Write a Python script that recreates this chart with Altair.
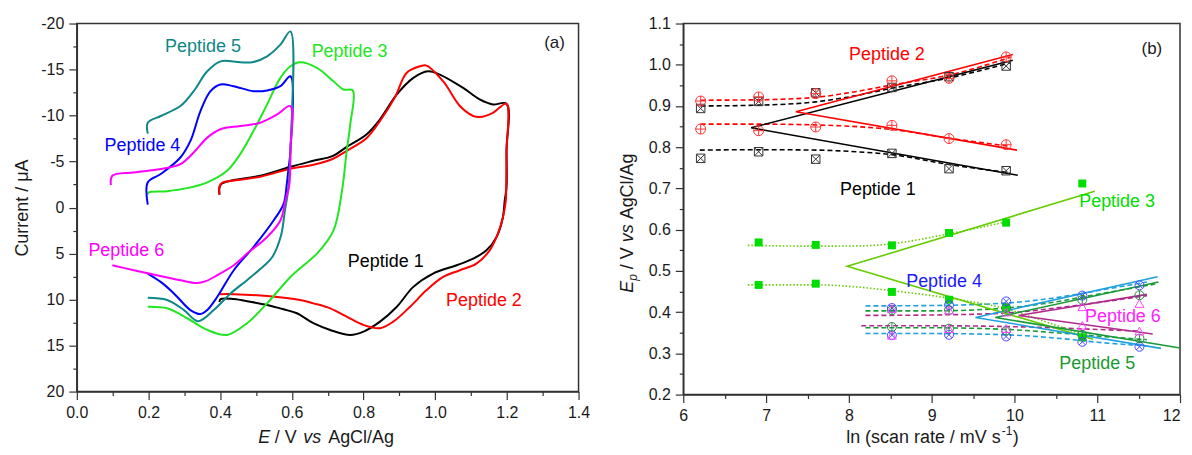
import altair as alt
import pandas as pd

FONT = "Liberation Sans"
INK = "#1a1a1a"
FRAME = "#333333"

# ================= Panel (a): cyclic voltammograms =================
cv_names = ["Peptide 1", "Peptide 2", "Peptide 3", "Peptide 4", "Peptide 5", "Peptide 6"]
cv_colors = ["#000000", "#ff0000", "#22e622", "#0000ff", "#0f8787", "#ff00ff"]

p1_E = [0.398, 0.398, 0.404, 0.429, 0.512, 0.596, 0.660, 0.715, 0.753, 0.809, 0.846, 0.893, 0.939, 0.980,
        1.013, 1.078, 1.124, 1.161, 1.199, 1.199, 1.199, 1.194, 1.189, 1.171, 1.143, 1.106, 1.060, 0.994,
        0.939, 0.893, 0.846, 0.800, 0.763, 0.707, 0.660, 0.614, 0.577, 0.531, 0.484, 0.438, 0.401, 0.398]
p1_I = [-1.41, -2.16, -2.59, -2.92, -3.46, -4.43, -5.08, -5.62, -6.59, -7.97, -9.59, -12.29, -14.09, -14.81,
        -14.45, -13.0, -11.75, -11.21, -11.28, -6.16, -2.19, -0.76, 1.05, 3.21, 4.65, 5.55, 6.27, 7.17,
        8.62, 10.78, 12.40, 13.48, 13.84, 13.30, 12.57, 11.49, 11.06, 10.59, 10.24, 9.95, 9.95, 10.27]

p2_E = [0.398, 0.398, 0.406, 0.456, 0.512, 0.596, 0.660, 0.715, 0.753, 0.809, 0.846, 0.888, 0.920, 0.957,
        0.976, 1.022, 1.069, 1.106, 1.124, 1.161, 1.199, 1.199, 1.198, 1.197, 1.189, 1.175, 1.152, 1.115,
        1.069, 1.022, 0.976, 0.930, 0.883, 0.846, 0.800, 0.753, 0.707, 0.660, 0.623, 0.531, 0.438, 0.398]
p2_I = [-1.41, -2.27, -2.70, -3.03, -3.35, -4.22, -4.65, -5.30, -6.16, -7.57, -9.41, -12.0, -14.63, -15.35,
        -15.43, -13.73, -11.03, -9.95, -9.84, -10.30, -11.28, -6.16, -1.84, -0.76, 1.05, 2.84, 4.65, 6.09,
        6.81, 7.54, 8.97, 10.78, 12.40, 13.11, 12.76, 11.86, 10.95, 10.41, 10.05, 9.62, 9.41, 9.41]

p3_E = [0.198, 0.200, 0.252, 0.308, 0.364, 0.419, 0.456, 0.493, 0.531, 0.568, 0.596, 0.623, 0.670, 0.716,
        0.744, 0.770, 0.763, 0.753, 0.740, 0.716, 0.670, 0.623, 0.596, 0.531, 0.475, 0.419, 0.364, 0.308,
        0.252, 0.198]
p3_I = [-1.41, -1.65, -1.78, -2.11, -2.74, -4.0, -5.81, -8.32, -11.21, -14.09, -15.35, -15.78, -15.17, -13.73,
        -12.83, -12.72, -9.05, -6.16, -1.84, 2.5, 5.01, 6.59, 7.54, 10.41, 12.57, 13.84, 13.30, 12.03,
        10.95, 10.78]

p4_E = [0.198, 0.198, 0.234, 0.289, 0.317, 0.345, 0.373, 0.401, 0.437, 0.493, 0.531, 0.568, 0.596, 0.596,
        0.590, 0.586, 0.577, 0.549, 0.493, 0.438, 0.392, 0.364, 0.345, 0.317, 0.271, 0.234, 0.198]
p4_I = [-0.32, -2.74, -3.64, -5.44, -7.24, -10.49, -12.65, -13.37, -13.19, -12.65, -12.72, -13.19, -14.27, -6.16,
        -4.0, -2.56, -0.4, 1.41, 4.29, 6.81, 9.70, 11.14, 11.57, 11.14, 9.33, 8.08, 7.17]

p5_E = [0.198, 0.198, 0.234, 0.289, 0.326, 0.364, 0.401, 0.456, 0.493, 0.531, 0.568, 0.596, 0.596, 0.590,
        0.580, 0.570, 0.545, 0.520, 0.475, 0.429, 0.382, 0.338, 0.299, 0.252, 0.198]
p5_I = [-8.03, -9.22, -9.95, -11.03, -12.65, -14.81, -15.89, -15.78, -15.82, -16.43, -17.70, -19.14, -6.16, -2.0,
        0.5, 3.0, 5.4, 6.4, 7.89, 9.33, 11.14, 12.35, 11.14, 10.05, 9.81]

p6_E = [0.095, 0.099, 0.159, 0.234, 0.289, 0.326, 0.364, 0.401, 0.456, 0.512, 0.559, 0.596, 0.596, 0.593,
        0.582, 0.568, 0.531, 0.475, 0.438, 0.392, 0.360, 0.335, 0.289, 0.252, 0.159, 0.099]
p6_I = [-2.45, -3.46, -3.82, -4.18, -4.72, -5.98, -7.60, -8.51, -8.86, -9.22, -10.13, -11.03, -6.16, -2.5,
        -0.76, 1.4, 3.2, 5.0, 6.27, 7.35, 8.0, 8.2, 7.9, 7.6, 6.81, 6.27]

lab_a_text = ["Peptide 1", "Peptide 2", "Peptide 3", "Peptide 4", "Peptide 5", "Peptide 6"]
lab_a_E = [0.862, 1.136, 0.761, 0.183, 0.352, 0.138]
lab_a_I = [5.9, 10.2, -16.9, -6.7, -17.5, 4.7]
tag_a_text = ["(a)"]
tag_a_E = [1.333]
tag_a_I = [-17.9]

xa_ticks = [0.0, 0.1, 0.2, 0.3, 0.4, 0.5, 0.6, 0.7, 0.8, 0.9, 1.0, 1.1, 1.2, 1.3, 1.4]
ya_ticks = [-20, -17.5, -15, -12.5, -10, -7.5, -5, -2.5, 0, 2.5, 5, 7.5, 10, 12.5, 15, 17.5, 20]

# ================= Panel (b): Ep vs ln(scan rate) =================
lnv_12 = [6.21, 6.91, 7.60, 8.52, 9.21, 9.90]
lnv_3 = [6.91, 7.60, 8.52, 9.21, 9.90, 10.82]
lnv_456 = [8.52, 9.21, 9.90, 10.82, 11.51]

p1_ox = [0.894, 0.911, 0.932, 0.945, 0.971, 0.997]
p1_rd = [0.773, 0.789, 0.771, 0.785, 0.748, 0.743]
p2_ox = [0.912, 0.922, 0.930, 0.961, 0.967, 1.019]
p2_rd = [0.844, 0.840, 0.849, 0.853, 0.821, 0.806]
p3_ox = [0.569, 0.563, 0.562, 0.592, 0.617, 0.712]
p3_rd = [0.466, 0.469, 0.449, 0.430, 0.410, 0.339]
p4_ox = [0.410, 0.417, 0.426, 0.440, 0.465]
p4_rd = [0.344, 0.345, 0.341, 0.328, 0.316]
p5_ox = [0.405, 0.405, 0.410, 0.430, 0.441]
p5_rd = [0.364, 0.360, 0.355, 0.345, 0.336]
p6_ox = [0.409, 0.405, 0.400, 0.413, 0.421]
p6_rd = [0.344, 0.360, 0.360, 0.368, 0.354]

# linear (Laviron) fits: upper end, intersection, lower end
fit1_x = [9.98, 6.82, 10.04]
fit1_y = [1.011, 0.847, 0.732]
fit2_x = [9.98, 7.36, 10.03]
fit2_y = [1.025, 0.886, 0.793]
fit3_x = [10.97, 7.98, 10.95]
fit3_y = [0.693, 0.511, 0.334]
fit4_x = [11.73, 9.53, 11.77]
fit4_y = [0.486, 0.387, 0.312]
fit5_x = [11.74, 9.77, 12.0]
fit5_y = [0.473, 0.387, 0.313]
fit6_x = [11.60, 10.05, 11.67]
fit6_y = [0.443, 0.392, 0.347]

# non-linear fitted curves (dashed / dotted)
d1u_x = [6.21, 6.91, 7.60, 8.0, 8.52, 9.21, 9.95]
d1u_y = [0.900, 0.902, 0.910, 0.922, 0.943, 0.968, 1.005]
d1l_x = [6.20, 6.91, 7.60, 8.0, 8.52, 9.21, 9.95]
d1l_y = [0.793, 0.794, 0.793, 0.790, 0.782, 0.758, 0.738]
d2u_x = [6.21, 6.91, 7.60, 8.0, 8.52, 9.21, 9.95]
d2u_y = [0.914, 0.915, 0.921, 0.932, 0.951, 0.975, 1.018]
d2l_x = [6.21, 6.91, 7.60, 8.0, 8.52, 9.21, 9.95]
d2l_y = [0.856, 0.856, 0.854, 0.851, 0.843, 0.822, 0.802]
d3u_x = [6.78, 7.60, 8.2, 8.52, 9.21, 9.92]
d3u_y = [0.562, 0.560, 0.561, 0.566, 0.590, 0.620]
d3l_x = [6.78, 7.60, 8.1, 8.52, 9.24, 9.88, 10.4, 10.9]
d3l_y = [0.466, 0.466, 0.461, 0.452, 0.433, 0.409, 0.375, 0.340]
d4u_x = [8.2, 9.0, 9.9, 10.5, 11.0, 11.6]
d4u_y = [0.415, 0.416, 0.422, 0.435, 0.452, 0.473]
d4l_x = [8.2, 9.0, 9.9, 10.5, 11.0, 11.6]
d4l_y = [0.348, 0.348, 0.345, 0.337, 0.327, 0.318]
d5u_x = [8.2, 9.0, 9.9, 10.5, 11.0, 11.7]
d5u_y = [0.403, 0.403, 0.410, 0.425, 0.443, 0.468]
d5l_x = [8.2, 9.0, 9.9, 10.5, 11.0, 11.6]
d5l_y = [0.362, 0.362, 0.358, 0.350, 0.342, 0.333]
d6u_x = [8.2, 9.0, 9.9, 10.5, 11.0, 11.6]
d6u_y = [0.392, 0.393, 0.398, 0.410, 0.423, 0.440]
d6l_x = [8.15, 9.0, 9.9, 10.5, 11.0, 11.5]
d6l_y = [0.367, 0.367, 0.365, 0.362, 0.358, 0.354]

lab_b_text = ["Peptide 1", "Peptide 2", "Peptide 3", "Peptide 4", "Peptide 5", "Peptide 6"]
lab_b_x = [8.35, 8.46, 11.24, 9.15, 11.0, 11.31]
lab_b_y = [0.696, 1.023, 0.666, 0.472, 0.273, 0.387]
tag_b_text = ["(b)"]
tag_b_x = [11.66]
tag_b_y = [1.037]

xb_ticks = [6, 6.5, 7, 7.5, 8, 8.5, 9, 9.5, 10, 10.5, 11, 11.5, 12]
yb_ticks = [0.2, 0.25, 0.3, 0.35, 0.4, 0.45, 0.5, 0.55, 0.6, 0.65, 0.7, 0.75, 0.8, 0.85, 0.9, 0.95, 1.0,
            1.05, 1.1]

# ================= styling =================
W_A, H_A = 503, 369
W_B, H_B = 498, 372

line_b_colors = ["#000000", "#ff0000", "#66cc00", "#1fa0e0", "#1a9a3a", "#b02a8e"]
mark_b_colors = ["#333333", "#ff3333", "#00dd00", "#4a4aff", "#2a8a4a", "#ff44ff"]
lab_b_colors = ["#000000", "#ff0000", "#00dd00", "#1a1aff", "#1a9a30", "#ff22ff"]

SQX = "M-1,-1L1,-1L1,1L-1,1Z M-1,-1L1,1 M1,-1L-1,1"
CPLUS = "M-1,0A1,1,0,1,1,1,0A1,1,0,1,1,-1,0Z M-1,0L1,0 M0,-1L0,1"
CX = "M-1,0A1,1,0,1,1,1,0A1,1,0,1,1,-1,0Z M-0.7,-0.7L0.7,0.7 M0.7,-0.7L-0.7,0.7"
CBAR = "M-1,0A1,1,0,1,1,1,0A1,1,0,1,1,-1,0Z M0,-1L0,1"


def tick_axis(values, major, label, **kw):
    return alt.Axis(
        values=values,
        labelExpr="(" + major + ") ? " + label + " : ''",
        tickSize={"condition": {"test": major, "value": 8}, "value": 4},
        grid=False, labelFlush=False, labelOverlap=False, **kw)


ax_xa = tick_axis(xa_ticks, "round(datum.value*10) % 2 == 0", "format(datum.value, '.1f')", title=None)
ax_ya = tick_axis(ya_ticks, "datum.value % 5 == 0",
                  "(datum.value < 0 ? '-' : '') + format(abs(datum.value), 'd')",
                  title="Current / μA", titlePadding=9)
ax_xb = tick_axis(xb_ticks, "datum.value % 1 == 0", "format(datum.value, 'd')", title=None,
                  labelAlign={"condition": {"test": "datum.value == 12", "value": "right"}, "value": "center"})
ax_yb = tick_axis(yb_ticks, "round(datum.value*100) % 10 == 0", "format(datum.value, '.1f')", title=None)


def piece(txt, x, y, size=18, style="normal", angle=0, dx=0, dy=0):
    kw = dict(text=txt, font=FONT, fontSize=size, fontStyle=style, align="left",
              baseline="alphabetic", color=INK, dx=dx, dy=dy)
    if angle:
        kw["angle"] = angle
    return alt.Chart(alt.Data(values=[{}])).mark_text(**kw).encode(x=alt.value(x), y=alt.value(y))


# ---------- panel (a) ----------
cv_E = [p1_E, p2_E, p3_E, p4_E, p5_E, p6_E]
cv_I = [p1_I, p2_I, p3_I, p4_I, p5_I, p6_I]
rows = []
for name, Es, Is in zip(cv_names, cv_E, cv_I):
    for k, (e, i) in enumerate(zip(Es, Is)):
        rows.append({"pep": name, "E": e, "I": i, "k": k})
cv_df = pd.DataFrame(rows)

xa = alt.X("E:Q", scale=alt.Scale(domain=[0, 1.4], nice=False, zero=False), axis=ax_xa)
ya = alt.Y("I:Q", scale=alt.Scale(domain=[-20, 20], nice=False, zero=False, reverse=True), axis=ax_ya)
col_a = alt.Color("pep:N", scale=alt.Scale(domain=cv_names, range=cv_colors), legend=None)

cv_lines = alt.Chart(cv_df).mark_line(strokeWidth=2, interpolate="catmull-rom").encode(
    x=xa, y=ya, color=col_a, detail="pep:N", order="k:Q")
lab_a = alt.Chart(pd.DataFrame({"pep": lab_a_text, "E": lab_a_E, "I": lab_a_I})).mark_text(
    font=FONT, fontSize=18, baseline="middle").encode(x=xa, y=ya, text="pep:N", color=col_a)
tag_a = alt.Chart(pd.DataFrame({"t": tag_a_text, "E": tag_a_E, "I": tag_a_I})).mark_text(
    font=FONT, fontSize=17, color=INK, baseline="middle").encode(x=xa, y=ya, text="t:N")

xa_base = H_A + 52
xa_title = [
    piece("E", 182, xa_base, style="italic"),
    piece("/ V", 198.5, xa_base),
    piece("vs", 227, xa_base, style="italic"),
    piece("AgCl/Ag", 252, xa_base),
]
panel_a = alt.layer(cv_lines, lab_a, tag_a, *xa_title).properties(width=W_A, height=H_A)

# ---------- panel (b) ----------
xb = alt.X("x:Q", scale=alt.Scale(domain=[6, 12], nice=False, zero=False), axis=ax_xb)
yb = alt.Y("y:Q", scale=alt.Scale(domain=[0.2, 1.1], nice=False, zero=False), axis=ax_yb)

layers_b = []
dashed = [(d1u_x, d1u_y, 0), (d1l_x, d1l_y, 0), (d2u_x, d2u_y, 1), (d2l_x, d2l_y, 1),
          (d4u_x, d4u_y, 3), (d4l_x, d4l_y, 3), (d5u_x, d5u_y, 4), (d5l_x, d5l_y, 4),
          (d6u_x, d6u_y, 5), (d6l_x, d6l_y, 5)]
for xs, ys, c in dashed:
    layers_b.append(alt.Chart(pd.DataFrame({"x": xs, "y": ys})).mark_line(
        color=line_b_colors[c], strokeWidth=1.6, strokeDash=[5, 3], interpolate="monotone").encode(x=xb, y=yb))
for xs, ys in [(d3u_x, d3u_y), (d3l_x, d3l_y)]:
    layers_b.append(alt.Chart(pd.DataFrame({"x": xs, "y": ys})).mark_line(
        color=line_b_colors[2], strokeWidth=1.6, strokeDash=[1.5, 2], interpolate="monotone").encode(x=xb, y=yb))

fits = [(fit1_x, fit1_y), (fit2_x, fit2_y), (fit3_x, fit3_y), (fit4_x, fit4_y), (fit5_x, fit5_y), (fit6_x, fit6_y)]
for c, (xs, ys) in enumerate(fits):
    layers_b.append(alt.Chart(pd.DataFrame({"x": xs, "y": ys, "k": list(range(len(xs)))})).mark_line(
        color=line_b_colors[c], strokeWidth=1.6).encode(x=xb, y=yb, order="k:Q"))

markers = [
    (lnv_12, p1_ox, p1_rd, SQX, 72, False),
    (lnv_12, p2_ox, p2_rd, CPLUS, 100, False),
    (lnv_3, p3_ox, p3_rd, "square", 64, True),
    (lnv_456, p4_ox, p4_rd, CX, 81, False),
    (lnv_456, p5_ox, p5_rd, CBAR, 81, False),
    (lnv_456, p6_ox, p6_rd, "triangle-up", 80, False),
]
for c, (xs, ox, rd, shp, sz, fl) in enumerate(markers):
    df = pd.DataFrame({"x": xs + xs, "y": ox + rd})
    layers_b.append(alt.Chart(df).mark_point(
        shape=shp, size=sz, filled=fl, color=mark_b_colors[c], strokeWidth=1, opacity=1).encode(x=xb, y=yb))

for c in range(6):
    layers_b.append(alt.Chart(pd.DataFrame({"t": [lab_b_text[c]], "x": [lab_b_x[c]], "y": [lab_b_y[c]]})).mark_text(
        font=FONT, fontSize=18, baseline="middle", color=lab_b_colors[c]).encode(x=xb, y=yb, text="t:N"))
layers_b.append(alt.Chart(pd.DataFrame({"t": tag_b_text, "x": tag_b_x, "y": tag_b_y})).mark_text(
    font=FONT, fontSize=17, baseline="middle", color=INK).encode(x=xb, y=yb, text="t:N"))

# axis titles with mixed styles
yb_x, yb_y = -50.7, 270
layers_b += [
    piece("E", yb_x, yb_y, style="italic", angle=270),
    piece("p", yb_x, yb_y, size=12, style="italic", angle=270, dx=12, dy=4),
    piece("/ V", yb_x, yb_y, angle=270, dx=23.7),
    piece("vs", yb_x, yb_y, style="italic", angle=270, dx=50.7),
    piece("AgCl/Ag", yb_x, yb_y, angle=270, dx=73.7),
]
xb_base = H_B + 49
layers_b += [
    piece("ln (scan rate / mV s", 163.3, xb_base),
    piece("-1", 163.3, xb_base, size=12, dx=156, dy=-8),
    piece(")", 163.3, xb_base, dx=167),
]
panel_b = alt.layer(*layers_b).properties(width=W_B, height=H_B)

chart = alt.hconcat(panel_a, panel_b, spacing=105, bounds="flush",
                    padding={"left": 5, "top": 6, "right": 0, "bottom": 0}).configure_axis(
    labelFont=FONT, labelFontSize=16, labelColor=INK, labelPadding=5,
    titleFont=FONT, titleFontSize=18, titleFontWeight="normal", titleColor=INK,
    tickColor=FRAME, domainColor=FRAME, tickWidth=1.2, domainWidth=1.5,
).configure_view(stroke=FRAME, strokeWidth=1.5)

chart.save("out.html", embed_options={"renderer": "svg", "actions": False})
